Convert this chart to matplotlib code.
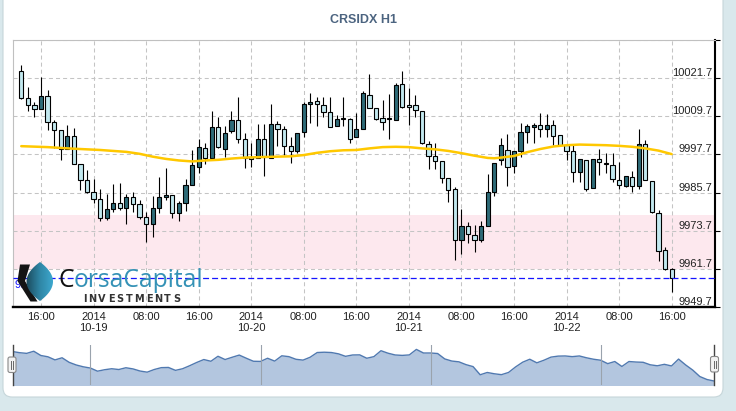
import matplotlib
matplotlib.use("Agg")
import matplotlib.pyplot as plt
import numpy as np
from matplotlib.patches import FancyBboxPatch, Polygon, Rectangle
from matplotlib.transforms import IdentityTransform
from matplotlib.colors import LinearSegmentedColormap

plt.rcParams['lines.scale_dashes'] = False

# ---------------- data ----------------
title = "CRSIDX H1"

opens = [
    10023.8, 10015.4, 10013.2, 10011.9, 10016.0, 10007.8, 10005.3, 9999.3, 10003.4, 9994.6,
    9989.5, 9986.0, 9983.6, 9977.6, 9980.4, 9982.3, 9980.8, 9984.2, 9982.0, 9977.9,
    9975.7, 9980.8, 9984.4, 9984.8, 9979.2, 9982.3, 9988.1, 9993.6, 9999.6, 9996.7,
    10006.3, 9999.3, 10005.0, 10008.6, 10002.5, 9997.0, 9996.6, 10002.5, 9996.5, 10007.2,
    10005.6, 10000.3, 9998.9, 10004.7, 10013.5, 10014.4, 10013.2, 10011.0, 10006.5, 10008.8,
    10008.8, 10003.3, 10005.6, 10016.3, 10012.2, 10009.1, 10008.8, 10008.6, 10019.8, 10013.2,
    10013.2, 10011.3, 10000.9, 9997.1, 9995.6, 9990.2, 9986.7, 9970.7, 9975.1, 9972.3,
    9970.7, 9975.1, 9986.0, 9995.8, 9999.1, 9994.0, 9998.7, 10004.7, 10006.3, 10006.9,
    10005.6, 10006.9, 10003.7, 10000.6, 9998.7, 9992.1, 9995.9, 9987.1, 9996.2, 9994.9,
    9994.3, 9989.6, 9987.7, 9990.5, 9987.7, 10000.9, 9989.2, 9979.4, 9967.6, 9961.6]
highs = [
    10025.9, 10018.9, 10014.2, 10022.0, 10018.0, 10008.6, 10005.3, 10006.9, 10005.9, 9994.6,
    9992.8, 9989.9, 9986.7, 9985.3, 9988.4, 9988.8, 9985.2, 9985.8, 9983.4, 9979.7,
    9984.7, 9990.6, 9993.5, 9984.8, 9983.1, 9990.0, 9999.1, 10002.6, 10001.2, 10011.5,
    10009.6, 10006.5, 10011.5, 10015.7, 10004.4, 10001.2, 10007.2, 10007.2, 10013.6, 10008.3,
    10006.5, 10003.3, 10004.4, 10014.3, 10017.0, 10015.9, 10015.9, 10015.9, 10010.1, 10015.7,
    10009.3, 10010.7, 10017.5, 10023.1, 10012.2, 10014.9, 10016.7, 10020.1, 10024.0, 10018.5,
    10016.3, 10011.3, 10002.0, 10001.2, 9995.6, 9990.2, 9987.6, 9980.4, 9976.4, 9975.6,
    9976.7, 9991.6, 9995.1, 10002.8, 10004.1, 9998.7, 10007.5, 10007.2, 10007.5, 10010.7,
    10010.4, 10008.5, 10003.7, 10000.6, 10000.6, 9996.2, 9995.9, 9996.2, 9999.3, 9998.1,
    9998.1, 9995.2, 9990.8, 9992.4, 10005.6, 10002.2, 9989.2, 9980.2, 9968.5, 9961.9]
lows = [
    10015.1, 10011.5, 10009.6, 10011.9, 10005.4, 9999.6, 9996.0, 9999.3, 9994.6, 9986.5,
    9985.5, 9982.5, 9976.6, 9977.1, 9979.5, 9980.2, 9975.8, 9979.7, 9977.4, 9970.3,
    9971.6, 9979.4, 9983.4, 9977.8, 9976.6, 9980.0, 9988.0, 9992.0, 9994.7, 9996.7,
    9999.6, 9997.0, 10004.3, 10001.2, 9993.4, 9993.9, 9996.6, 9991.0, 9996.5, 10000.5,
    9997.5, 9995.1, 9998.3, 10003.3, 10007.7, 10006.5, 10009.4, 10006.2, 10006.5, 10006.8,
    10001.2, 10003.3, 10005.6, 10012.2, 10008.6, 10005.5, 10002.6, 10008.6, 10012.2, 10007.1,
    10009.6, 10000.9, 9993.0, 9993.0, 9988.6, 9982.6, 9964.5, 9966.3, 9969.7, 9967.1,
    9970.2, 9975.1, 9984.7, 9994.4, 9987.9, 9992.0, 9997.0, 10001.2, 10001.2, 10003.3,
    10003.3, 10000.7, 10000.3, 9995.8, 9988.9, 9988.9, 9986.3, 9987.1, 9991.1, 9991.8,
    9988.9, 9986.7, 9987.4, 9985.8, 9986.7, 9989.6, 9979.4, 9964.2, 9961.3, 9954.5]
closes = [
    10015.4, 10013.2, 10011.9, 10016.0, 10007.8, 10005.3, 9999.3, 10003.4, 9994.6, 9989.5,
    9986.0, 9983.6, 9977.6, 9980.4, 9982.3, 9980.8, 9984.2, 9982.0, 9977.9, 9975.7,
    9980.8, 9984.4, 9984.8, 9979.2, 9982.3, 9988.1, 9994.4, 10000.0, 9996.7, 10006.3,
    10000.0, 10004.4, 10008.6, 10002.5, 9996.7, 9996.4, 10002.5, 9997.0, 10007.2, 10005.6,
    10000.5, 9998.9, 10004.4, 10013.5, 10014.1, 10013.5, 10011.0, 10006.2, 10008.8, 10009.0,
    10002.5, 10005.6, 10017.0, 10012.2, 10008.8, 10008.0, 10008.9, 10019.5, 10012.6, 10012.6,
    10011.6, 10001.2, 9997.1, 9995.6, 9990.2, 9986.4, 9970.7, 9975.1, 9972.6, 9970.9,
    9975.1, 9985.8, 9994.9, 10000.6, 9993.7, 9998.7, 10004.7, 10006.6, 10006.9, 10005.6,
    10006.9, 10003.4, 10000.6, 9998.7, 9992.1, 9996.2, 9986.7, 9996.2, 9995.2, 9994.7,
    9989.9, 9988.0, 9990.8, 9987.7, 10000.9, 9989.6, 9979.7, 9967.3, 9961.6, 9958.7]

ma_idx = [0, 4, 8, 12, 16, 18, 20, 22, 24, 26, 28, 30, 32, 34, 37, 39, 41, 43, 45, 47,
          49, 51, 53, 55, 57, 59, 61, 63, 65, 67, 69, 71, 72, 73, 75, 77, 79, 81, 83, 85,
          87, 89, 91, 93, 95, 97, 99]
ma_val = [10000.3, 10000.0, 9999.5, 9999.1, 9998.5, 9997.9, 9997.0, 9996.3, 9995.8, 9995.5,
          9995.8, 9996.0, 9996.4, 9996.7, 9996.9, 9997.0, 9997.1, 9997.5, 9998.2, 9998.7,
          9999.0, 9999.1, 9999.6, 10000.0, 10000.1, 10000.0, 9999.6, 9999.3, 9998.8, 9998.1,
          9997.3, 9996.6, 9996.5, 9996.7, 9997.2, 9998.4, 9999.4, 10000.2, 10000.6, 10000.8,
          10000.7, 10000.6, 10000.4, 10000.1, 9999.6, 9998.9, 9997.8]

tick_pos = [3, 11, 19, 27, 35, 43, 51, 59, 67, 75, 83, 91, 99]
tick_labels = ["16:00", "2014\n10-19", "08:00", "16:00", "2014\n10-20", "08:00", "16:00",
               "2014\n10-21", "08:00", "16:00", "2014\n10-22", "08:00", "16:00"]
day_idx = [11, 35, 59, 83]
ytick_vals = [9949.7, 9961.7, 9973.7, 9985.7, 9997.7, 10009.7, 10021.7, 10033.7]
band_low, band_high = 9961.7, 9978.7
last_price = 9958.7

# ---------------- figure ----------------
W, H = 736, 411
fig = plt.figure(figsize=(W / 100, H / 100), dpi=100)
fig.patch.set_facecolor('#d9e8ec')

bg = fig.add_axes([0, 0, 1, 1], zorder=-10)
bg.set_xlim(0, W); bg.set_ylim(H, 0); bg.axis('off')
bg.add_patch(FancyBboxPatch((3, -20), 720, 417, boxstyle="round,pad=0,rounding_size=9",
                            fc='white', ec='#c6d6da', lw=0.8))

ax = fig.add_axes([13 / W, 1 - 307 / H, 702 / W, 267 / H])
ax.set_xlim(-1.26, 105.6)
ax.set_ylim(ytick_vals[0], ytick_vals[-1])
ax.set_facecolor('white')

ax.axhspan(band_low, band_high, color='#fde8ee', lw=0, zorder=0)

ax.set_yticks(ytick_vals)
ax.set_xticks(tick_pos)
ax.set_xticklabels(tick_labels, fontsize=8, color='#222', family='Liberation Sans')
ax.grid(True, color='#c4c4c4', lw=0.75, linestyle=(0, (2.9, 2.2)), zorder=1)
ax.set_axisbelow(True)

ax.yaxis.tick_right()
ax.tick_params(axis='y', length=3.5, width=0.8, color='black', labelright=False)
ax.tick_params(axis='x', length=0, pad=3.5)
for s in ['top', 'left']:
    ax.spines[s].set_color('#c0c0c0'); ax.spines[s].set_linewidth(0.8)
ax.spines['right'].set_color('black'); ax.spines['right'].set_linewidth(1.5)
ax.spines['bottom'].set_color('black'); ax.spines['bottom'].set_linewidth(1.7)

o = np.array(opens); c = np.array(closes); hi = np.array(highs); lo = np.array(lows)
x = np.arange(len(o))
up = c >= o
cols = np.where(up, '#2e6b78', '#c2e8ef')
ax.vlines(x, lo, hi, color='black', lw=0.8, zorder=3)
bottoms = np.minimum(o, c)
heights = np.maximum(np.abs(c - o), 0.25)
ax.bar(x, heights, bottom=bottoms, width=0.64, color=cols, edgecolor='black', lw=0.8, zorder=4)

ax.plot(ma_idx, ma_val, color='#ffc800', lw=1.8, zorder=5, solid_capstyle='round',
        solid_joinstyle='round')

ax.axhline(last_price, color='#1515ff', lw=0.9, linestyle=(0, (4.3, 2.2)), zorder=6)

for v in ytick_vals[:-1]:
    ax.annotate(f"{v:.1f}", xy=(1, v), xycoords=('axes fraction', 'data'),
                xytext=(-2, 0), textcoords='offset points', ha='right', va='bottom',
                fontsize=8, color='#222', family='Liberation Sans', zorder=7)

plab = ax.annotate(f"{last_price:.1f}", xy=(0, last_price), xycoords=('axes fraction', 'data'),
                   xytext=(1, -1.5), textcoords='offset points', ha='left', va='top',
                   fontsize=8, color='#1515ff', family='Liberation Sans', zorder=7)
plab.set_clip_path(Rectangle((0, 0), 22, 2000, transform=IdentityTransform()))

fig.text(363 / W, 1 - 20 / H, title, ha='center', va='center', fontsize=9,
         fontweight='bold', color='#4c6480', family='Liberation Sans')

# ---------------- navigator ----------------
nav = fig.add_axes([12.5 / W, 1 - 385 / H, 701.5 / W, 40 / H])
nav.set_xlim(0, len(c) - 1)
nav.set_ylim(9951, 10028)
nav.fill_between(x, c, 9900, color='#b3c6df', lw=0)
nav.plot(x, c, color='#5079b0', lw=1)
for d in day_idx:
    nav.axvline(d, color='#9aa3ad', lw=0.8)
nav.axvline(0, color='#444', lw=1, clip_on=False)
nav.axvline(len(c) - 1, color='#444', lw=1, clip_on=False)
nav.axis('off')

# ---------------- overlay (logo, handles) ----------------
lax = fig.add_axes([0, 0, 1, 1], zorder=20)
lax.set_xlim(0, W); lax.set_ylim(H, 0); lax.axis('off')
lax.patch.set_alpha(0)

for hx, hy in [(8, 357), (710.5, 356.5)]:
    lax.add_patch(FancyBboxPatch((hx, hy), 8, 15.5, boxstyle="round,pad=0,rounding_size=2",
                                 fc='#f2f2f2', ec='#888', lw=0.8))
    lax.plot([hx + 3, hx + 3], [hy + 4, hy + 11.5], color='#666', lw=0.7)
    lax.plot([hx + 5, hx + 5], [hy + 4, hy + 11.5], color='#666', lw=0.7)

# logo icon
lax.add_patch(Polygon([(20, 264.5), (30, 264.5), (25, 281), (37.5, 301.5), (30.5, 301.5),
                       (17.5, 281)], closed=True, fc='#141414', ec='none'))
s = np.linspace(-1, 1, 80)
half = 1 - s ** 2
lx = np.concatenate([40 + 13 * half, (40 - 13.5 * half)[::-1]])
ly = np.concatenate([281.5 + 19.5 * s, (281.5 + 19.5 * s)[::-1]])
lens = Polygon(np.column_stack([lx, ly]), closed=True, fc='none', ec='none')
lax.add_patch(lens)
cmap = LinearSegmentedColormap.from_list('g', ['#1b4a5c', '#2f86a6', '#3eaad0'])
im = lax.imshow(np.linspace(0, 1, 64)[None, :], cmap=cmap, aspect='auto',
                extent=(26, 53.5, 301.5, 261.5), zorder=5)
im.set_clip_path(lens)
lax.set_xlim(0, W); lax.set_ylim(H, 0)

# logo text
fig.canvas.draw()
r = fig.canvas.get_renderer()
fs = 17.5
tC = lax.text(58.3, 287, 'C', fontsize=fs, color='#111', family='Open Sans', va='baseline')
bb = tC.get_window_extent(r)
tR = lax.text(bb.x1 - 0.5, 287, 'orsaCapital', fontsize=fs, color='#3592b6',
              family='Open Sans', va='baseline')
bb2 = tR.get_window_extent(r)
scale = 145.0 / (bb2.x1 - bb.x0)
tC.set_fontsize(fs * scale)
bb = tC.get_window_extent(r)
tR.set_fontsize(fs * scale)
tR.set_x(bb.x1 - 0.5)

word = "INVESTMENTS"
ws = []
arts = []
for ch in word:
    a = lax.text(0, 301.5, ch, fontsize=7, fontweight='bold', color='#333',
                 family='DejaVu Sans', va='baseline')
    arts.append(a)
    ws.append(a.get_window_extent(r).width)
gap = (97.0 - sum(ws)) / (len(word) - 1)
xx = 83.0
for a, wdt in zip(arts, ws):
    a.set_x(xx)
    xx += wdt + gap

fig.savefig('out.png', dpi=100, facecolor=fig.get_facecolor())
